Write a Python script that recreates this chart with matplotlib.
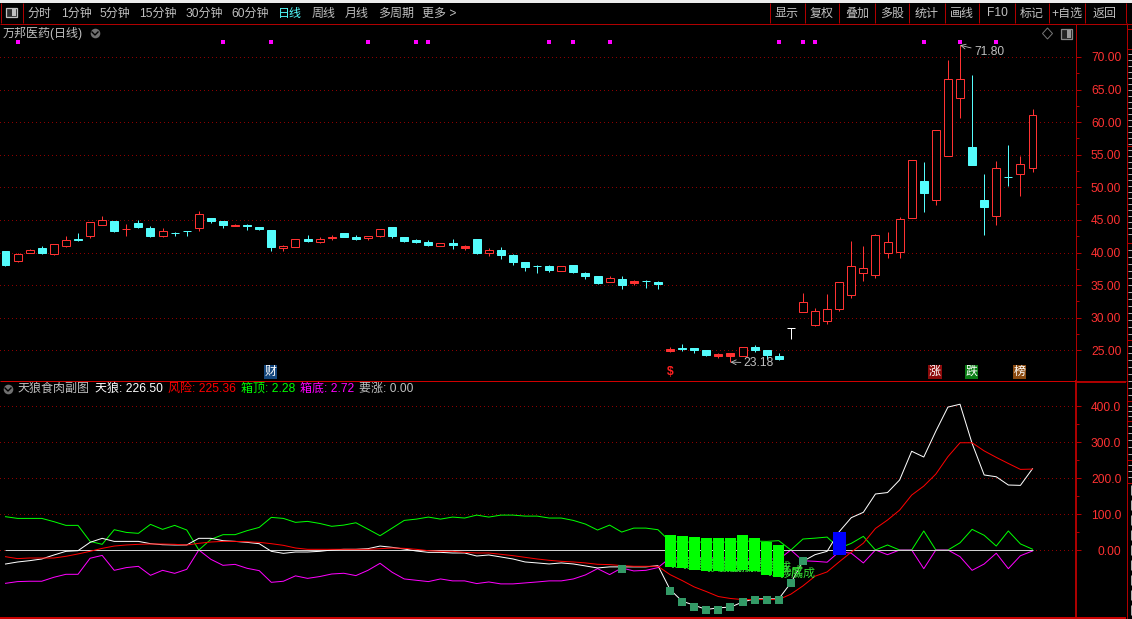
import matplotlib
matplotlib.use('Agg')
import matplotlib.pyplot as plt
from matplotlib.patches import Rectangle, Polygon

plt.rcParams['font.family'] = ['Liberation Sans', 'Noto Sans CJK SC', 'DejaVu Sans']

# ---- price panel data ----
opens = [40.30, 38.66, 39.89, 40.76, 39.73, 40.96, 42.09, 42.49, 44.18, 44.90, 43.55, 44.59, 43.82, 42.49, 43.06,
         43.36, 43.72, 45.31, 44.90, 44.03, 44.18, 43.98, 43.52, 40.65, 40.81, 42.14, 41.57, 42.19, 43.06, 42.44,
         42.19, 42.49, 43.98, 42.44, 41.98, 41.68, 40.96, 41.52, 40.76, 42.14, 39.89, 40.45, 39.68, 38.61, 38.00,
         38.00, 37.13, 38.15, 36.92, 36.46, 35.44, 36.00, 35.39, 35.70, 35.54, 24.90, 25.36, 25.36, 25.05, 24.19,
         24.19, 24.19, 25.51, 25.05, 24.13, 28.36, 30.90, 28.92, 29.53, 31.36, 33.50, 36.86, 36.60, 39.91, 40.06,
         45.30, 51.03, 48.05, 54.82, 63.69, 56.26, 48.10, 45.60, 51.64, 52.05, 52.97]
closes = [38.15, 39.84, 40.40, 39.99, 41.32, 41.93, 41.93, 44.69, 45.00, 43.36, 43.60, 43.98, 42.60, 43.31, 42.96,
          43.26, 45.92, 44.90, 44.28, 44.28, 44.08, 43.67, 40.91, 41.01, 42.09, 41.83, 42.09, 42.44, 42.44, 42.14,
          42.55, 43.62, 42.60, 41.83, 41.68, 41.22, 41.47, 41.22, 41.06, 39.99, 40.40, 39.68, 38.61, 37.84, 37.90,
          37.38, 37.94, 37.08, 36.46, 35.39, 36.10, 35.08, 35.70, 35.60, 35.23, 25.20, 25.20, 25.05, 24.34, 24.44,
          24.54, 25.46, 25.05, 24.34, 23.68, 28.36, 32.48, 30.95, 31.41, 35.53, 37.98, 37.67, 42.71, 41.64, 45.15,
          54.20, 49.08, 58.82, 66.67, 66.67, 53.38, 46.93, 52.97, 51.54, 53.59, 61.13]
highs = [40.30, 39.94, 40.55, 41.06, 41.32, 42.60, 43.06, 44.69, 45.66, 44.90, 44.44, 45.05, 44.13, 43.77, 43.21,
         43.36, 46.43, 45.31, 44.90, 44.39, 44.39, 43.98, 43.52, 41.17, 42.09, 42.75, 42.44, 42.75, 43.06, 42.75,
         42.55, 43.62, 43.98, 42.44, 42.14, 41.93, 41.47, 42.14, 41.22, 42.14, 40.76, 40.91, 39.84, 38.61, 38.15,
         38.15, 37.94, 38.15, 37.08, 36.46, 36.46, 36.46, 35.85, 35.85, 35.70, 25.50, 25.97, 25.36, 25.05, 24.59,
         24.54, 25.46, 25.81, 25.05, 24.59, 28.36, 33.75, 31.46, 33.60, 35.53, 41.69, 40.93, 42.86, 43.22, 45.46,
         54.20, 53.95, 58.82, 69.49, 71.80, 67.18, 52.10, 54.10, 56.56, 54.87, 61.95]
lows = [37.90, 38.50, 39.89, 39.73, 39.58, 40.80, 41.83, 42.19, 44.18, 43.20, 42.49, 43.82, 42.34, 42.34, 42.49,
        42.49, 43.36, 44.49, 43.72, 44.03, 43.52, 43.52, 40.30, 40.19, 40.81, 41.68, 41.42, 41.98, 42.34, 41.98,
        41.98, 42.34, 42.19, 41.68, 41.52, 41.06, 40.96, 40.60, 40.45, 39.84, 39.43, 39.07, 38.15, 37.23, 36.92,
        37.08, 37.13, 36.92, 36.00, 35.23, 35.44, 34.47, 35.03, 34.62, 34.47, 24.75, 24.90, 24.64, 24.19, 23.88,
        23.18, 24.19, 24.75, 23.68, 23.52, 26.78, 30.90, 28.77, 29.02, 31.00, 32.99, 35.59, 36.04, 39.10, 39.10,
        45.30, 46.17, 47.24, 54.82, 60.62, 53.38, 42.66, 44.19, 50.15, 48.62, 52.41]

signal_bars = [1, 18, 22, 30, 34, 35, 45, 47, 50, 64, 66, 67, 76, 79, 82]
signal_price = 72.25
tag_bars = [22, 77, 80, 84]
tag_texts = ['财', '涨', '跌', '榜']
tag_colors = ['#14467c', '#8c0a0a', '#0a7d14', '#8a4a10']
tag_price = 21.67
price_ticks = [25, 30, 35, 40, 45, 50, 55, 60, 65, 70]
price_minor = [27.5, 32.5, 37.5, 42.5, 47.5, 52.5, 57.5, 62.5, 67.5]

# ---- indicator panel data ----
tianlang = [-39, -33.4, -29.7, -25, -14, -3.7, -1.9, 21.3, 32.5, 24, 24, 24, 17.6, 14.8, 14, 14, 32.5, 32.5, 26, 24,
            21.3, 17.6, -3.7, -9.3, -5.6, -5.6, -3.7, 0, 1.9, 1.9, 3.7, 11, 7.4, 2.8, -2.8, -6.5, -6.5, -8.3, -8.3,
            -16.7, -13.9, -19.4, -25, -33.3, -36, -38.9, -36, -38.9, -44.4, -50, -47, -47, -47, -47, -43.5, -110,
            -142.6, -153.7, -165.7, -161, -159, -145, -136, -136, -136, -91.7, -31.5, -13, -3.7, 51, 90, 105, 156,
            160, 195, 275, 259, 331, 398, 406, 297, 209, 204, 181, 180, 226.5]
fengxian = [-18.6, -24, -22.3, -22.3, -22.3, -17.6, -11, -3.7, 4.6, 11, 14, 15.8, 16.7, 16.7, 15.8, 14, 18.6, 22.3,
            24, 24, 23, 21.3, 17.6, 13, 5.6, 1.9, 1.9, 1.9, 1.9, 1.9, 1.9, 3.7, 5.6, 4.6, 1.9, -1.9, -3.7, -3.7,
            -6.5, -8.3, -8.3, -12, -15.7, -20.4, -25, -28.7, -31.5, -33.3, -36, -39.8, -40.7, -43.5, -45.4, -45.4,
            -45.4, -68.5, -85, -102.8, -115.7, -129.6, -135, -138, -138, -138, -138, -123, -100, -73, -61, -33, -6,
            19, 60, 83.5, 111, 153, 178, 211.5, 260, 298.7, 298.7, 276, 258, 241, 224.5, 225.36]
xiangding = [92.8, 88, 88, 88, 79, 68.6, 68.6, 24, 15.8, 56.5, 49, 46.4, 71.4, 57.5, 68.6, 55.7, 0, 29.7, 42.7, 42.7,
             53.9, 63, 90.9, 88, 77, 79.7, 74, 66, 69.4, 75.9, 58, 39.8, 61, 82.4, 86, 91.7, 86, 91.7, 89, 97.2, 91.7,
             97.2, 97.2, 94.4, 94.4, 89, 89, 82.4, 72.2, 55.6, 69.4, 50, 61, 61, 56.5, 24, 22, 22, 22, 22, 22, 24, 25,
             24, 26, 0, 30.6, 33, 36, 5, 18.5, 38, 0, 14, 0, 0, 53, 0, 0, 20, 57.5, 41, 11, 53, 17, 2.28]
xiangdi = [-92.8, -88, -87, -87, -76, -67.7, -67.7, -23, -15, -56.6, -49, -45.5, -70.5, -56.6, -65, -53.8, 0, -26,
           -42.7, -40, -51, -57.5, -90, -87, -72, -79, -74, -66.8, -64.8, -71.3, -56.6, -37, -62, -80.6, -84.3, -88,
           -80.6, -86, -86, -93.5, -89, -94.4, -94.4, -91.7, -89, -86, -86, -80.6, -69.4, -51.9, -68.5, -50, -58.3,
           -56.6, -49, -22, -22, -22, -22, -22, -22, -24, -25, -24, -26, 0, -30, -31.5, -34, -5, -9, -36, 0, -13, 0,
           0, -52, 0, 0, -18.5, -56.6, -39, -9, -52, -16, -2.72]

green_bars = [55, 56, 57, 58, 59, 60, 61, 62, 63, 64]
green_tops = [42.6, 39.8, 37, 34, 34, 34, 42.6, 34, 23, 15]
green_bottoms = [-48, -50, -54.6, -59, -59, -59, -54.6, -59, -71, -76]
green_label = '抄底成'
blue_bar = 69
blue_top = 50
blue_bottom = -14
teal_bars = [51, 55, 56, 57, 58, 59, 60, 61, 62, 63, 64, 65, 66]
teal_vals = [-51.9, -113, -144, -158, -168, -166, -160, -144, -138, -138, -139, -93, -32]
sub_ticks = [0, 100, 200, 300, 400]
sub_labels = ['0.00', '100.0', '200.0', '300.0', '400.0']
sub_minor = [50, 150, 250, 350]

# ---- toolbar text ----
left_menu = ['分时', '1分钟', '5分钟', '15分钟', '30分钟', '60分钟', '日线', '周线', '月线', '多周期', '更多 >']
left_menu_x = [39.5, 76, 115, 158, 204, 250, 290, 324, 357, 396, 439]
right_menu = ['显示', '复权', '叠加', '多股', '统计', '画线', 'F10', '标记', '+自选', '返回']
right_menu_x = [787, 822, 857, 892, 927, 962, 997, 1032, 1067, 1105]
dividers = [770.3, 804.7, 839.3, 874.7, 909.3, 944.7, 979.3, 1014.7, 1049.3, 1084.7, 1126]

W, H = 1132, 619
RED = '#ff3232'
CYAN = '#54fcfc'
GREY = '#c0c0c0'
LINE = '#b00000'
GRID = '#8c0000'
FS = 8.64
PX = 0.72
n = len(closes)


def pixel_axes(x0, y0, x1, y1):
    a = fig.add_axes([x0 / W, 1 - y1 / H, (x1 - x0) / W, (y1 - y0) / H])
    a.set_facecolor('black')
    for s in a.spines.values():
        s.set_visible(False)
    a.spines['right'].set_visible(True)
    a.spines['right'].set_color(LINE)
    a.spines['right'].set_linewidth(PX)
    a.set_xlim(-0.455, 88.6)
    a.set_xticks([])
    a.grid(True, axis='y', color=GRID, lw=PX, linestyle=(0, (1, 3)), antialiased=False)
    a.set_axisbelow(True)
    a.tick_params(axis='y', which='major', left=False, right=True, labelleft=False, labelright=True,
                  length=3.6, width=PX, color=LINE, labelcolor=RED, labelsize=FS, pad=29)
    a.tick_params(axis='y', which='minor', left=False, right=True, length=2, width=PX, color=LINE)
    return a


fig = plt.figure(figsize=(W / 100, H / 100), dpi=100, facecolor='black')

# price panel
ax = pixel_axes(0, 24, 1076, 380)
ax.set_ylim(20.44, 75.06)
ax.set_yticks(price_ticks)
ax.set_yticklabels(['%.2f' % p for p in price_ticks], ha='right')
ax.set_yticks(price_minor, minor=True)

for i in range(n):
    o, c = opens[i], closes[i]
    col = RED if c > o else (CYAN if c < o else 'white')
    ax.vlines(i, lows[i], highs[i], color=col, lw=PX, zorder=2)
    low_body, height = min(o, c), abs(c - o)
    if col == RED and height > 0.35:
        face = 'black'
    else:
        face = col
    ax.bar(i, height, bottom=low_body, width=0.66, facecolor=face, edgecolor=col, lw=PX, zorder=3)

ax.scatter(signal_bars, [signal_price] * len(signal_bars), marker='s', s=4.7, color='#ff00ff', linewidths=0, zorder=4)

arrow = dict(arrowstyle='->', color=GREY, lw=0.6, shrinkA=0, shrinkB=0)
ax.annotate('%.2f' % max(highs), xy=(highs.index(max(highs)), max(highs)), xytext=(10, -5), textcoords='offset points',
            color=GREY, fontsize=FS, va='center', arrowprops=arrow, zorder=5)
ax.annotate('%.2f' % min(lows[55:]), xy=(60, min(lows[55:])), xytext=(9.5, -0.5), textcoords='offset points',
            color=GREY, fontsize=FS, va='center', arrowprops=arrow, zorder=5)

for b, t, c in zip(tag_bars, tag_texts, tag_colors):
    ax.text(b - 0.07, tag_price, t, color='white', fontsize=FS, ha='center', va='center', zorder=5,
            bbox=dict(boxstyle='square,pad=0.05', facecolor=c, edgecolor='none'))
ax.text(55, tag_price, '$', color='#ff2020', fontsize=FS, fontweight='bold', ha='center', va='center', zorder=5)

# indicator panel
ax2 = pixel_axes(0, 381, 1076, 617)
ax2.set_ylim(-186.6, 470.7)
ax2.set_yticks(sub_ticks)
ax2.set_yticklabels(sub_labels, ha='right')
ax2.set_yticks(sub_minor, minor=True)
ax2.spines['right'].set_linewidth(1.4)

xs = list(range(n))
ax2.plot(xs, xiangding, color='#00ff00', lw=PX, zorder=2)
ax2.plot(xs, xiangdi, color='#ff00ff', lw=PX, zorder=2)
ax2.hlines(0, 0, n - 1, color='#d0d0d0', lw=PX, zorder=2.5)
ax2.plot(xs, tianlang, color='white', lw=PX, zorder=3)
ax2.plot(xs, fengxian, color='#ff0000', lw=PX, zorder=3.1)

for b, bot in zip(green_bars, green_bottoms):
    ax2.text(b + 0.05, bot + 10, green_label, color='#33dd33', fontsize=FS, ha='left', va='center', zorder=3.5)
ax2.bar(green_bars, [t - b for t, b in zip(green_tops, green_bottoms)], bottom=green_bottoms, width=0.91,
        color='#00ff00', lw=0, zorder=4)
ax2.bar(blue_bar, blue_top - blue_bottom, bottom=blue_bottom, width=1.08, color='#0000ff', lw=0, zorder=4)
ax2.scatter(teal_bars, teal_vals, marker='s', s=36, color='#339966', linewidths=0, zorder=5)

# window chrome drawn in pixel coordinates
ui = fig.add_axes([0, 0, 1, 1], zorder=10)
ui.set_xlim(0, W)
ui.set_ylim(H, 0)
ui.axis('off')
ui.patch.set_alpha(0)

ui.add_patch(Rectangle((0, 0), W, 3, facecolor='#ececec', edgecolor='none'))
ui.hlines(23.5, 0, W, color=LINE, lw=PX)
ui.vlines([1, 23], 3, 23, color=LINE, lw=PX)
ui.vlines(dividers, 3, 23, color=LINE, lw=PX)
ui.vlines(1126.5, 23, 619, color=LINE, lw=PX)
ui.hlines(380.5, 0, 1126, color='#d00000', lw=PX)
ui.hlines(617.5, 0, 1126, color='#d00000', lw=1.4)
ui.hlines(381.5, 1076, 1126, color=LINE, lw=1.4)

ui.add_patch(Rectangle((5.5, 8), 11, 9, facecolor='#303030', edgecolor=GREY, lw=0.9))
ui.add_patch(Rectangle((11.5, 9), 4, 7, facecolor=GREY, edgecolor='none'))

for t, x in zip(left_menu, left_menu_x):
    ui.text(x, 13.5, t, color=CYAN if t == '日线' else GREY, fontsize=FS, ha='center', va='center')
for t, x in zip(right_menu, right_menu_x):
    ui.text(x, 13.5, t, color=GREY, fontsize=FS, ha='center', va='center')

ui.text(2.5, 33, '万邦医药(日线)', color=GREY, fontsize=FS, ha='left', va='center')
for cx, cy in [(95, 33), (8, 389)]:
    ui.scatter([cx], [cy], s=48, color='#707070', linewidths=0)
    ui.plot([cx - 3, cx, cx + 3], [cy - 1, cy + 2, cy - 1], color='black', lw=1.0)
ui.add_patch(Polygon([(1047.5, 28), (1052.5, 33.5), (1047.5, 39), (1042.5, 33.5)], fill=False, edgecolor='#777777', lw=0.7))
ui.add_patch(Rectangle((1061, 28.5), 10.5, 10, facecolor='#222222', edgecolor='#888888', lw=0.9))
ui.add_patch(Rectangle((1066.5, 29.5), 4, 8, facecolor='#999999', edgecolor='none'))

ui.text(17.5, 389, '天狼食肉副图', color=GREY, fontsize=FS, ha='left', va='center')
ui.text(95, 389, '天狼: 226.50', color='white', fontsize=FS, ha='left', va='center')
ui.text(168, 389, '风险: 225.36', color='#ff0000', fontsize=FS, ha='left', va='center')
ui.text(241, 389, '箱顶: 2.28', color='#00ff00', fontsize=FS, ha='left', va='center')
ui.text(300, 389, '箱底: 2.72', color='#ff00ff', fontsize=FS, ha='left', va='center')
ui.text(359, 389, '要涨: 0.00', color=GREY, fontsize=FS, ha='left', va='center')

# cut-off side column on the far right: only slivers of it show, so short strokes stand in
ui.hlines([29, 49, 146, 243, 340, 401, 421, 460, 483], 1127, W, color=LINE, lw=PX)
ui.hlines(list(range(54, 240, 6)), 1128, W, color='#b0b0b0', lw=PX)
ui.hlines(list(range(250, 336, 7)) + list(range(346, 398, 7)) + list(range(406, 418, 5)) + list(range(426, 458, 7)) + list(range(465, 480, 6)),
          1128, W, color='#b0b0b0', lw=PX)
for y in range(490, 619, 15):
    ui.vlines(1130.5, y - 5, y + 5, color='#b0b0b0', lw=PX)

fig.savefig('out.png', dpi=100, facecolor='black')
